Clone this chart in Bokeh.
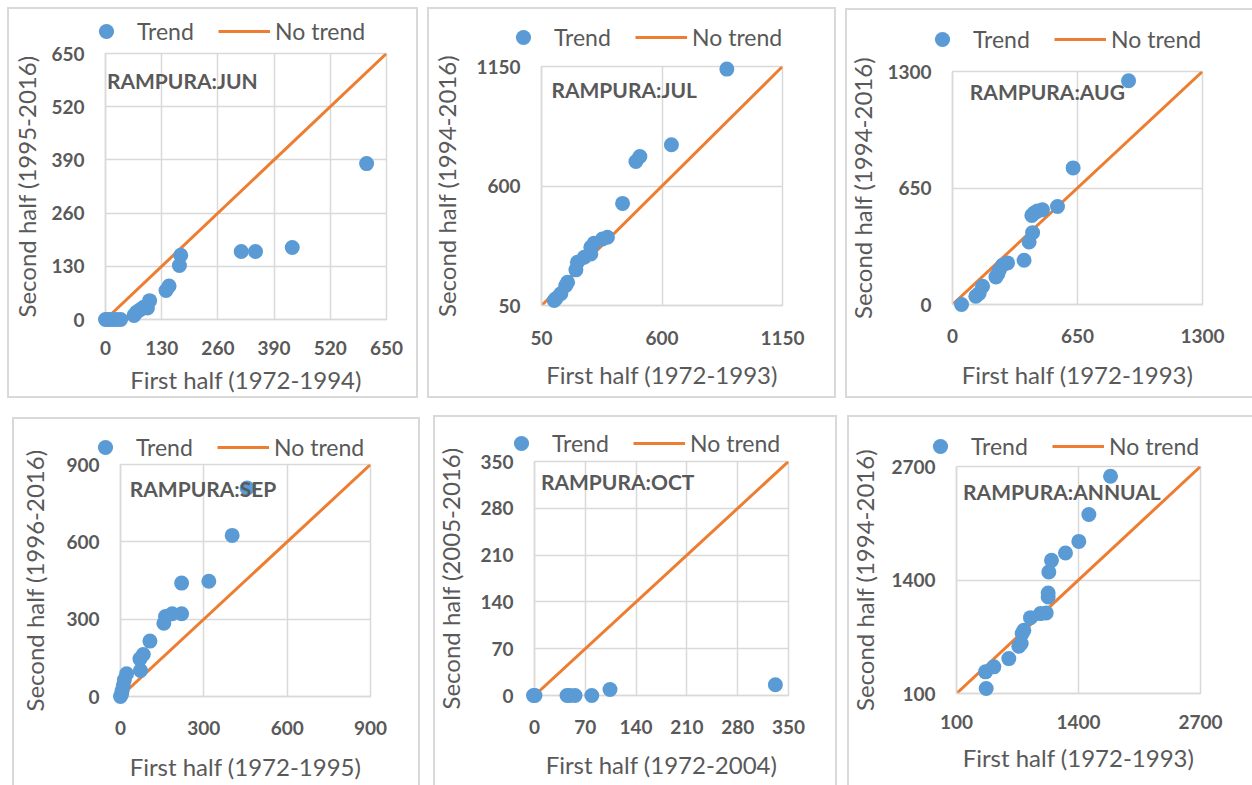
from bokeh.plotting import figure
from bokeh.models import Range1d, FixedTicker, Legend, LegendItem, Label
from bokeh.layouts import column, row
from bokeh.embed import file_html
from bokeh.resources import INLINE

# ---------------- data ----------------
jun_first = [0, 4, 10, 18, 26, 35, 66, 72, 80, 88, 97, 102, 140, 147, 171, 174, 314, 347, 432, 604]
jun_second = [0, 0, 0, 0, 0, 0, 10, 18, 24, 30, 28, 46, 71, 82, 132, 157, 166, 166, 176, 381]
jun_ticks = [0, 130, 260, 390, 520, 650]

jul_first = [108, 115, 138, 161, 169, 207, 214, 245, 275, 275, 290, 328, 351, 420, 481, 499, 643, 896]
jul_second = [73, 81, 104, 142, 157, 214, 249, 272, 287, 318, 336, 356, 364, 520, 713, 736, 790, 1138]
jul_ticks = [50, 600, 1150]

aug_first = [52, 126, 143, 161, 230, 240, 247, 264, 290, 376, 402, 420, 416, 428, 445, 471, 549, 630, 917]
aug_second = [0, 46, 61, 102, 154, 170, 191, 219, 232, 247, 349, 401, 497, 510, 521, 529, 547, 762, 1248]
aug_ticks = [0, 650, 1300]

sep_first = [0, 4, 6, 10, 14, 22, 72, 70, 82, 106, 156, 162, 186, 220, 220, 318, 402, 456]
sep_second = [0, 10, 23, 43, 65, 88, 101, 146, 163, 215, 284, 310, 321, 321, 440, 447, 625, 809]
sep_ticks = [0, 300, 600, 900]

oct_first = [0, 2, 46, 50, 57, 80, 105, 332]
oct_second = [0, 0, 0, 0, 0, 0, 9, 16]
oct_ticks = [0, 70, 140, 210, 280, 350]

ann_first = [435, 428, 516, 674, 780, 805, 815, 833, 903, 1009, 1069, 1090, 1090, 1097, 1125, 1273, 1414, 1520, 1749]
ann_second = [157, 348, 405, 500, 641, 672, 786, 824, 969, 1015, 1023, 1205, 1251, 1491, 1625, 1709, 1842, 2151, 2589]
ann_ticks = [100, 1400, 2700]

titles = ["RAMPURA:JUN", "RAMPURA:JUL", "RAMPURA:AUG", "RAMPURA:SEP", "RAMPURA:OCT", "RAMPURA:ANNUAL"]
x_labels = ["First half (1972-1994)", "First half (1972-1993)", "First half (1972-1993)",
            "First half (1972-1995)", "First half (1972-2004)", "First half (1972-1993)"]
y_labels = ["Second half (1995-2016)", "Second half (1994-2016)", "Second half (1994-2016)",
            "Second half (1996-2016)", "Second half (2005-2016)", "Second half (1994-2016)"]

BLUE = "#5B9BD5"
ORANGE = "#ED7D31"
TXT = "#595959"
GRID = "#d9d9d9"
FONT = "Lato"

# layout per panel: margin, size, borders, legend offset, title position, standoffs,
# which edges of the chart box are visible (top, right, bottom, left)
layout_cfg = [
    dict(m=(7, 0, 0, 7), w=411, h=391, L=98, R=32, T=46, B=79, lx=73, ly=3, tx=0.005, ty=0.10,
         yst=7, xts=21, xst=7, edges=(1, 1, 1, 1)),
    dict(m=(7, 0, 0, 9), w=409, h=391, L=114, R=54, T=59, B=93, lx=70, ly=10, tx=0.041, ty=0.095,
         yst=12, xts=25, xst=12, edges=(1, 1, 1, 1)),
    dict(m=(8, 0, 0, 9), w=407, h=390, L=106, R=50, T=63, B=94, lx=71, ly=13, tx=0.073, ty=0.086,
         yst=7, xts=24, xst=14, edges=(1, 0, 1, 1)),
    dict(m=(19, 0, 0, 12), w=408, h=368, L=108, R=50, T=47, B=89, lx=67, ly=-2, tx=0.037, ty=0.105,
         yst=14, xts=24, xst=14, edges=(1, 1, 0, 1)),
    dict(m=(17, 0, 0, 13), w=404, h=370, L=100, R=49, T=46, B=90, lx=62, ly=-1, tx=0.029, ty=0.086,
         yst=12, xts=24, xst=13, edges=(1, 1, 0, 1)),
    dict(m=(17, 0, 0, 10), w=405, h=370, L=107, R=52, T=51, B=92, lx=67, ly=1, tx=0.035, ty=0.108,
         yst=9, xts=21, xst=11, edges=(1, 0, 0, 1)),
]

series = [(jun_first, jun_second, jun_ticks), (jul_first, jul_second, jul_ticks),
          (aug_first, aug_second, aug_ticks), (sep_first, sep_second, sep_ticks),
          (oct_first, oct_second, oct_ticks), (ann_first, ann_second, ann_ticks)]

EXT = 12  # extra pixels around the frame of the marker layer, so edge markers are not cut


def box_style(edges):
    t, r, b, l = edges
    shadows = []
    if t:
        shadows.append(f"inset 0 2px 0 0 {GRID}")
    if r:
        shadows.append(f"inset -2px 0 0 0 {GRID}")
    if b:
        shadows.append(f"inset 0 -2px 0 0 {GRID}")
    if l:
        shadows.append(f"inset 2px 0 0 0 {GRID}")
    return {"box-shadow": ", ".join(shadows)}


def make_plot(i):
    xs, ys, ticks = series[i]
    c = layout_cfg[i]
    lo, hi = ticks[0], ticks[-1]
    p = figure(width=c["w"], height=c["h"], output_backend="svg", toolbar_location=None,
               title=None, x_range=Range1d(lo, hi), y_range=Range1d(lo, hi),
               min_border_left=c["L"], min_border_right=c["R"],
               min_border_top=c["T"], min_border_bottom=c["B"],
               background_fill_color="white", border_fill_alpha=0)
    p.styles = box_style(c["edges"])
    p.outline_line_color = GRID
    p.outline_line_width = 1.5
    for ax in (p.xaxis[0], p.yaxis[0]):
        ax.ticker = FixedTicker(ticks=ticks)
        ax.major_tick_line_color = None
        ax.minor_tick_line_color = None
        ax.major_tick_out = 0
        ax.major_tick_in = 0
        ax.axis_line_color = GRID
        ax.axis_line_width = 1.5
        ax.major_label_text_font = FONT
        ax.major_label_text_font_size = "19px"
        ax.major_label_text_font_style = "bold"
        ax.major_label_text_color = TXT
        ax.axis_label_text_font = FONT
        ax.axis_label_text_font_size = "24px"
        ax.axis_label_text_font_style = "normal"
        ax.axis_label_text_color = TXT
    p.xaxis[0].axis_label = x_labels[i]
    p.yaxis[0].axis_label = y_labels[i]
    p.xaxis[0].major_label_standoff = c["xts"]
    p.yaxis[0].major_label_standoff = 21
    p.xaxis[0].axis_label_standoff = c["xst"]
    p.yaxis[0].axis_label_standoff = c["yst"]
    p.grid.grid_line_color = GRID
    p.grid.grid_line_width = 1.5

    p.line([lo, hi], [lo, hi], line_color=ORANGE, line_width=3)
    return p


def make_marker_layer(i):
    # transparent layer over the plot with the same scale, slightly larger frame
    xs, ys, ticks = series[i]
    c = layout_cfg[i]
    lo, hi = ticks[0], ticks[-1]
    span = hi - lo
    fw = c["w"] - c["L"] - c["R"]
    fh = c["h"] - c["T"] - c["B"]
    ex = EXT * span / fw
    ey = EXT * span / fh
    o = figure(width=c["w"], height=c["h"], output_backend="svg", toolbar_location=None,
               title=None, x_range=Range1d(lo - ex, hi + ex), y_range=Range1d(lo - ey, hi + ey),
               x_axis_type=None, y_axis_type=None,
               min_border_left=c["L"] - EXT, min_border_right=c["R"] - EXT,
               min_border_top=c["T"] - EXT, min_border_bottom=c["B"] - EXT,
               background_fill_alpha=0, border_fill_alpha=0, outline_line_color=None)
    o.scatter(xs, ys, size=15, fill_color=BLUE, line_color=None)
    o.add_layout(Label(x=lo + c["tx"] * span, y=hi - c["ty"] * span, text=titles[i],
                       text_font=FONT, text_font_size="21px", text_font_style="bold",
                       text_color=TXT, text_align="left", text_baseline="middle"))
    return o


def make_legend_fig(i):
    # strip above the plot frame holding the legend; its ranges show none of the data
    xs, ys, ticks = series[i]
    c = layout_cfg[i]
    lo, hi = ticks[0], ticks[-1]
    lf = figure(width=c["w"], height=c["T"], output_backend="svg", toolbar_location=None,
                title=None, x_range=Range1d(-3, -2), y_range=Range1d(-3, -2),
                x_axis_type=None, y_axis_type=None, min_border=0,
                min_border_left=0, min_border_right=0, min_border_top=0, min_border_bottom=0,
                background_fill_alpha=0, border_fill_alpha=0, outline_line_color=None)
    r_line = lf.line([lo, hi], [lo, hi], line_color=ORANGE, line_width=3)
    r_sc = lf.scatter(xs, ys, size=15, fill_color=BLUE, line_color=None)
    legend = Legend(items=[LegendItem(label="Trend", renderers=[r_sc]),
                           LegendItem(label="No trend", renderers=[r_line])],
                    orientation="horizontal", location=(c["lx"], c["ly"]),
                    glyph_width=52, glyph_height=38, label_standoff=5, label_width=81,
                    spacing=0, padding=0, margin=0,
                    background_fill_alpha=0, border_line_alpha=0,
                    label_text_font=FONT, label_text_font_size="23px", label_text_color=TXT)
    lf.add_layout(legend, "center")
    return lf


def make_panel(i):
    c = layout_cfg[i]
    lf = make_legend_fig(i)
    p = make_plot(i)
    o = make_marker_layer(i)
    # legend strip under the (transparent) top border of the plot, markers layered on top
    return column(column(lf, margin=(0, 0, -c["T"], 0)),
                  column(p),
                  column(o, margin=(-c["h"], 0, 0, 0)),
                  margin=c["m"], spacing=0)


layout = column(row(make_panel(0), make_panel(1), make_panel(2), spacing=0),
                row(make_panel(3), make_panel(4), make_panel(5), spacing=0),
                spacing=0)

open("out.html", "w").write(file_html(layout, INLINE))
